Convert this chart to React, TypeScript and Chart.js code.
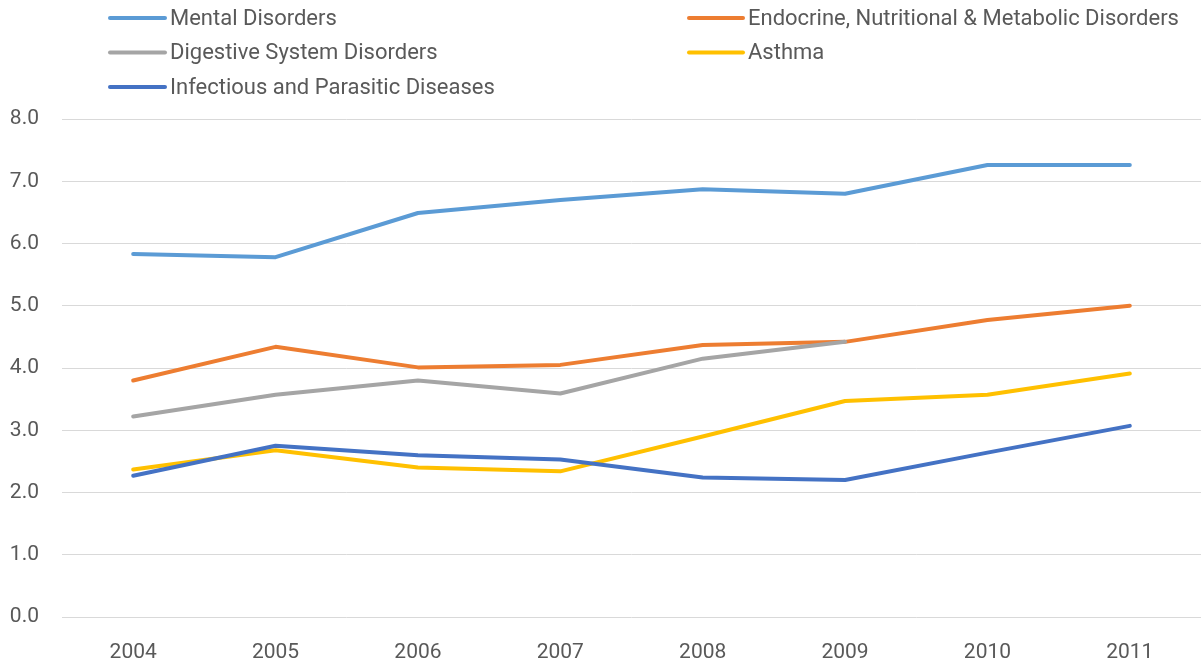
import React, { useEffect, useRef } from "react";
import { Chart, registerables } from "chart.js";

Chart.register(...registerables);

const years = ["2004", "2005", "2006", "2007", "2008", "2009", "2010", "2011"];
const mental = [5.83, 5.78, 6.49, 6.7, 6.87, 6.8, 7.26, 7.26];
const endocrine = [3.8, 4.34, 4.01, 4.05, 4.37, 4.42, 4.77, 5.0];
const digestive = [3.22, 3.57, 3.8, 3.59, 4.15, 4.42, null, null];
const asthma = [2.37, 2.68, 2.4, 2.34, 2.9, 3.47, 3.57, 3.91];
const infectious = [2.27, 2.75, 2.6, 2.53, 2.24, 2.2, 2.64, 3.07];

const seriesNames = [
  "Mental Disorders",
  "Endocrine, Nutritional & Metabolic Disorders",
  "Digestive System Disorders",
  "Asthma",
  "Infectious and Parasitic Diseases",
];
const seriesColors = ["#5B9BD5", "#ED7D31", "#A5A5A5", "#FFC000", "#4472C4"];
const yTicks = [0, 1, 2, 3, 4, 5, 6, 7, 8];

const FONT = "Roboto, 'Liberation Sans', sans-serif";
const TEXT = "#595959";

const legendPlugin = {
  id: "twoColLegend",
  afterDraw(chart: any) {
    const ctx = chart.ctx;
    const cols = [
      { lx1: 110, lx2: 165, tx: 170 },
      { lx1: 689, lx2: 743, tx: 748 },
    ];
    const rows = [18, 52.5, 87];
    ctx.save();
    chart.data.datasets.forEach((ds: any, i: number) => {
      const c = cols[i % 2];
      const y = rows[Math.floor(i / 2)];
      ctx.strokeStyle = ds.borderColor;
      ctx.lineWidth = 4;
      ctx.lineCap = "round";
      ctx.beginPath();
      ctx.moveTo(c.lx1, y);
      ctx.lineTo(c.lx2, y);
      ctx.stroke();
      ctx.fillStyle = TEXT;
      ctx.font = `22px ${FONT}`;
      ctx.textAlign = "left";
      ctx.textBaseline = "middle";
      ctx.fillText(ds.label, c.tx, y + 1);
    });
    ctx.restore();
  },
};

export default function App() {
  const ref = useRef<HTMLCanvasElement | null>(null);
  useEffect(() => {
    if (!ref.current) return;
    const data = [mental, endocrine, digestive, asthma, infectious];
    const chart = new Chart(ref.current, {
      type: "line",
      data: {
        labels: years,
        datasets: data.map((d, i) => ({
          label: seriesNames[i],
          data: d,
          borderColor: seriesColors[i],
          backgroundColor: seriesColors[i],
          borderWidth: 4,
          borderCapStyle: "round",
          borderJoinStyle: "round",
          pointRadius: 0,
          tension: 0,
          fill: false,
          spanGaps: false,
          order: 5 - i,
        })),
      },
      options: {
        animation: false,
        responsive: false,
        layout: { padding: { top: 119, left: 0, right: 0, bottom: 0 } },
        plugins: {
          legend: { display: false },
          tooltip: { enabled: false },
        },
        scales: {
          x: {
            offset: true,
            afterFit: (scale: any) => {
              scale.height = 45;
            },
            grid: { display: false, drawTicks: false },
            border: { display: false },
            ticks: {
              color: TEXT,
              font: { family: FONT, size: 21 },
              padding: 23,
              maxRotation: 0,
            },
          },
          y: {
            min: 0,
            max: 8,
            afterFit: (scale: any) => {
              scale.width = 62;
            },
            afterBuildTicks: (scale: any) => {
              scale.ticks = yTicks.map((v) => ({ value: v }));
            },
            grid: { color: "#D9D9D9", lineWidth: 1, drawTicks: false },
            border: { display: false },
            ticks: {
              color: TEXT,
              font: { family: FONT, size: 21 },
              padding: 23,
              callback: (v: any) => Number(v).toFixed(1),
            },
          },
        },
      },
      plugins: [legendPlugin],
    });
    return () => chart.destroy();
  }, []);
  return (
    <div style={{ position: "absolute", left: 0, top: 0, width: 1201, height: 662, background: "#fff" }}>
      <canvas ref={ref} width={1201} height={662} style={{ display: "block" }} />
    </div>
  );
}
